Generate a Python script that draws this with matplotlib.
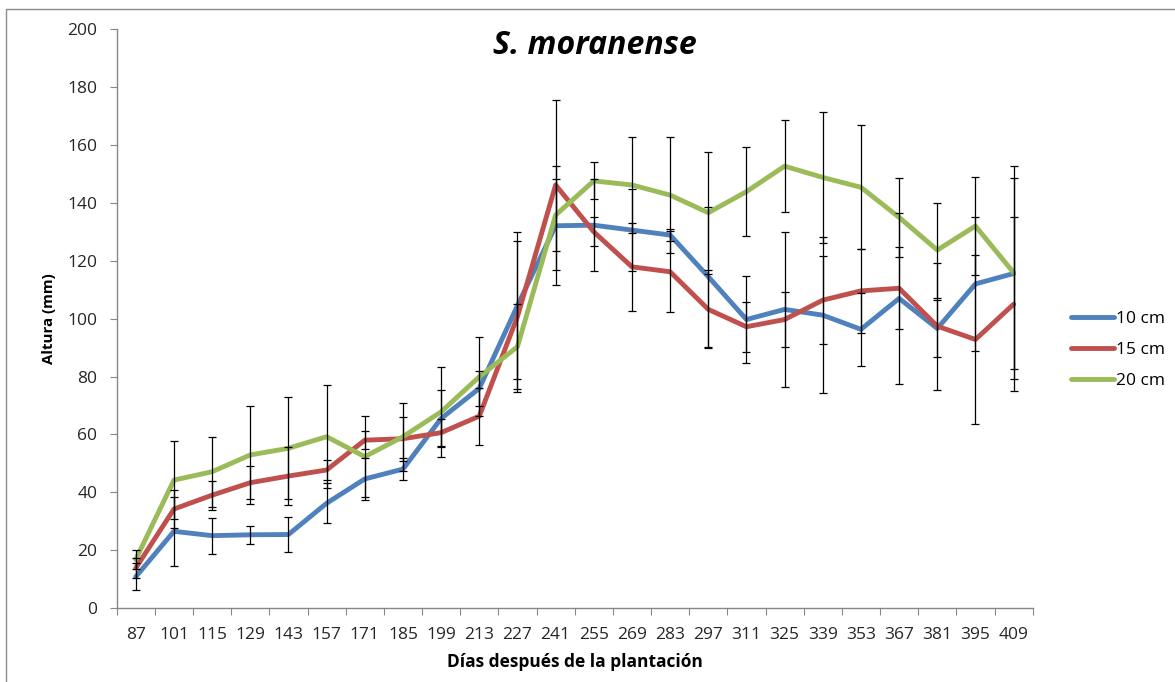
import matplotlib
matplotlib.use("Agg")
import matplotlib.pyplot as plt
from matplotlib.patches import Rectangle
import numpy as np

plt.rcParams['font.family'] = ['Open Sans', 'DejaVu Sans']

# Days after planting (category axis)
days = [87, 101, 115, 129, 143, 157, 171, 185, 199, 213, 227, 241,
        255, 269, 283, 297, 311, 325, 339, 353, 367, 381, 395, 409]

# Mean height (mm) per planting depth
h10 = [10.8, 26.5, 25.0, 25.3, 25.4, 36.2, 44.6, 48.0, 65.5, 75.9, 104.5, 132.1,
       132.3, 130.6, 128.9, 114.5, 99.7, 103.2, 101.2, 96.3, 107.0, 96.6, 112.0, 115.6]
h15 = [13.8, 34.2, 39.0, 43.3, 45.6, 47.7, 58.0, 58.5, 60.6, 66.3, 100.7, 146.2,
       130.0, 117.9, 116.2, 103.2, 97.2, 99.7, 106.4, 109.6, 110.5, 97.4, 92.8, 105.0]
h20 = [16.8, 44.2, 47.1, 52.9, 55.2, 59.2, 52.3, 59.2, 67.8, 79.9, 90.3, 135.8,
       147.6, 146.2, 142.7, 136.6, 143.9, 152.7, 148.8, 145.4, 135.0, 123.7, 132.0, 115.9]

# Standard deviation per point
e10 = [4.6, 11.9, 6.2, 3.2, 6.2, 6.9, 7.3, 3.7, 10.0, 6.0, 25.5, 20.6,
       15.8, 14.2, 2.0, 24.2, 15.2, 26.8, 27.0, 12.5, 29.6, 10.0, 23.3, 32.9]
e15 = [3.5, 6.6, 5.0, 5.8, 9.9, 3.4, 3.0, 7.6, 4.7, 9.8, 26.0, 29.5,
       5.0, 15.3, 14.0, 13.5, 8.6, 9.6, 15.3, 14.4, 14.2, 21.9, 29.3, 30.0]
e20 = [3.3, 13.4, 12.1, 16.9, 17.6, 17.9, 14.0, 11.7, 15.6, 13.7, 14.7, 12.4,
       6.4, 16.6, 20.0, 21.0, 15.3, 16.0, 22.7, 21.4, 13.6, 16.4, 17.0, 36.9]

labels = ['10 cm', '15 cm', '20 cm']
colors = ['#4F81BD', '#C0504D', '#9BBB59']

W, H = 1175, 682
fig = plt.figure(figsize=(W / 100, H / 100), dpi=100)
ax = fig.add_axes([116.7 / W, 1 - 608 / H, (1032.7 - 116.7) / W, (608 - 29.3) / H])

x = np.arange(len(days))
for vals, lab, col in zip([h10, h15, h20], labels, colors):
    ax.plot(x, vals, color=col, lw=3.5, label=lab, zorder=3, solid_capstyle='round')
for vals, errs in zip([h10, h15, h20], [e10, e15, e20]):
    ax.errorbar(x, vals, yerr=errs, fmt='none', ecolor='black', elinewidth=0.9,
                capsize=3.1, capthick=0.9, zorder=4)

ax.set_xlim(-0.5, len(days) - 0.5)
ax.set_ylim(0, 200)
ax.set_yticks(np.arange(0, 201, 20))

# category boundaries carry the ticks, labels sit at category centres
ax.set_xticks(np.arange(-0.5, len(days), 1.0))
ax.set_xticklabels([])
ax.set_xticks(x, minor=True)
ax.set_xticklabels([str(d) for d in days], minor=True)
ax.tick_params(axis='x', which='minor', length=0, pad=14, labelsize=12.5, labelcolor='#262626')
ax.tick_params(axis='x', which='major', length=5, color='#868686', direction='out')
ax.tick_params(axis='y', length=5, color='#868686', direction='out', labelsize=12.5,
               labelcolor='#262626', pad=9)

for s in ['top', 'right']:
    ax.spines[s].set_visible(False)
for s in ['left', 'bottom']:
    ax.spines[s].set_color('#868686')
    ax.spines[s].set_linewidth(1.0)

ax.set_ylabel('Altura (mm)', fontsize=10.8, fontweight='bold', color='black', labelpad=8)
ax.set_xlabel('Días después de la plantación', fontsize=12.5, fontweight='bold',
              color='black', labelpad=7)

fig.text(595 / W, 1 - 45 / H, 'S. moranense', ha='center', va='center', fontsize=23,
         fontweight='bold', fontstyle='italic')

leg = ax.legend(loc='center left', bbox_to_anchor=(1055 / W, 1 - 350 / H),
                bbox_transform=fig.transFigure, frameon=False, fontsize=12.5,
                handlelength=2.5, handletextpad=0.1, labelspacing=0.85)

# outer chart frame
fig.patches.append(Rectangle((6 / W, -0.05), 1.2, 1 - 9 / H + 0.05,
                             transform=fig.transFigure, fill=False,
                             edgecolor='#8c8c8c', lw=1.0))

fig.savefig('out.png', dpi=100)
